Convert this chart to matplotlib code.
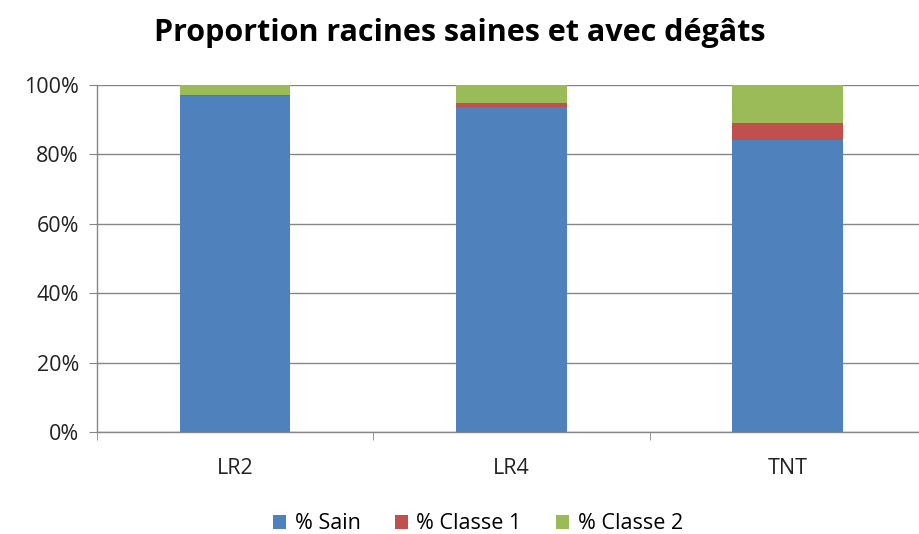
import numpy as np
import matplotlib.pyplot as plt
from matplotlib.ticker import PercentFormatter

plt.rcParams['font.family'] = ['Open Sans', 'DejaVu Sans']

categories = ['LR2', 'LR4', 'TNT']
sain = [96.8, 93.5, 84.1]
classe1 = [0.4, 1.4, 4.8]
classe2 = [2.8, 5.1, 11.1]
labels = ['% Sain', '% Classe 1', '% Classe 2']
colors = ['#4F81BD', '#C0504D', '#9BBB59']

fig = plt.figure(figsize=(9.19, 5.34), dpi=100)
ax = fig.add_axes([0.1055, 0.191, 0.902, 0.650])

x = np.arange(len(categories))
w = 0.40
bottom = np.zeros(len(categories))
for vals, lab, c in zip([sain, classe1, classe2], labels, colors):
    ax.bar(x, vals, w, bottom=bottom, color=c, label=lab, zorder=3)
    bottom += np.array(vals)

ax.set_xlim(-0.5, 2.5)
ax.set_ylim(0, 100)
ax.set_yticks(np.arange(0, 101, 20))
ax.yaxis.set_major_formatter(PercentFormatter(decimals=0))
ax.set_xticks(x)
ax.set_xticklabels(categories)
ax.set_xticks([-0.5, 0.5, 1.5], minor=True)
ax.tick_params(axis='x', which='major', length=0, pad=19, labelsize=15.5, colors='#222222')
ax.tick_params(axis='x', which='minor', length=6, color='#868686')
ax.tick_params(axis='y', length=6, color='#868686', labelsize=15.5, labelcolor='#222222', pad=7)
ax.grid(axis='y', color='#868686', linewidth=1, zorder=0)
for s in ['top', 'right']:
    ax.spines[s].set_visible(False)
for s in ['left', 'bottom']:
    ax.spines[s].set_color('#868686')
    ax.spines[s].set_linewidth(1)

fig.suptitle('Proportion racines saines et avec dégâts', fontsize=22, fontweight='bold', y=0.967)
fig.legend(loc='lower center', ncol=3, frameon=False, fontsize=15.5, bbox_to_anchor=(0.52, -0.037),
           handlelength=0.6, handleheight=0.6, handletextpad=0.4, columnspacing=1.6)

plt.savefig('out.png', dpi=100)
